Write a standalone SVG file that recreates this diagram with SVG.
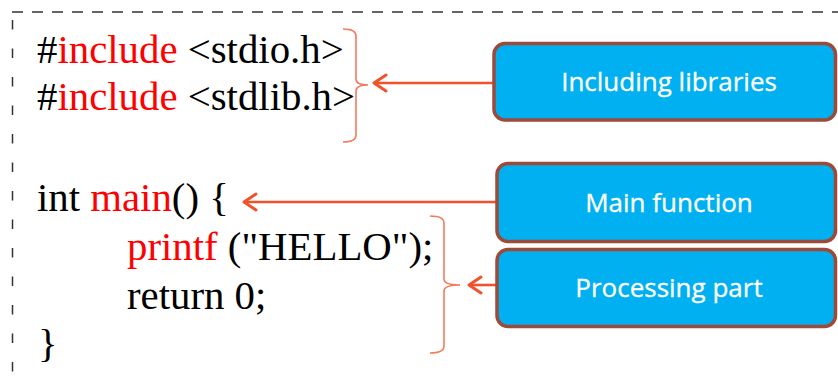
<svg xmlns="http://www.w3.org/2000/svg" width="838" height="390" viewBox="0 0 838 390">
  <style>
    .code { font-family: "Liberation Serif", "Times New Roman", serif; font-size: 40.8px; fill: #000; }
    .kw { fill: #ff0000; }
    .frame { fill: none; stroke: #333; stroke-width: 1.5; }
    .brace { fill: none; stroke: #f47a5c; stroke-width: 1.6; }
    .conn { fill: none; stroke: #f0522b; stroke-width: 2.6; }
    .box rect { fill: #00b0f0; stroke: #9c4a3a; stroke-width: 3.5; }
    .box text { font-family: "Open Sans", "Noto Sans", sans-serif; font-size: 26px; fill: #fff; stroke: #fff; stroke-width: 0.3; text-anchor: middle; }
  </style>
  <defs>
    <marker id="chevron" markerUnits="userSpaceOnUse" viewBox="-16 -11 18 22" markerWidth="18" markerHeight="22" refX="0" refY="0" orient="auto">
      <path d="M-12,-8 L0,0 L-12,8" fill="none" stroke="#f0522b" stroke-width="3" stroke-linejoin="round" stroke-linecap="round"/>
    </marker>
  </defs>

  <rect width="838" height="390" fill="#fff"/>

  <!-- dashed frame -->
  <g id="frame">
    <line class="frame" x1="12" y1="12" x2="838" y2="12" stroke-dasharray="11 9"/>
    <line class="frame" x1="12.5" y1="20" x2="12.5" y2="390" stroke-dasharray="9.5 19"/>
  </g>

  <!-- source listing -->
  <g id="code">
    <text class="code" x="37" y="63">#<tspan class="kw">include</tspan> &lt;stdio.h&gt;</text>
    <text class="code" x="37" y="110">#<tspan class="kw">include</tspan> &lt;stdlib.h&gt;</text>
    <text class="code" x="37" y="211">int <tspan class="kw">main</tspan>() {</text>
    <text class="code" x="127" y="260"><tspan class="kw">printf</tspan> ("HELLO");</text>
    <text class="code" x="127" y="309">return 0;</text>
    <text class="code" x="38" y="357">}</text>
  </g>

  <!-- braces grouping the listing -->
  <g id="braces">
    <path class="brace" d="M343,29 Q356,29 356,36 L356,79 Q356,85 368,85 Q356,85 356,91 L356,135 Q356,142 343,142"/>
    <path class="brace" d="M430,216 Q444,216 444,223 L444,279 Q444,285 460,285 Q444,285 444,291 L444,346 Q444,353 430,353"/>
  </g>

  <!-- connectors -->
  <g id="connectors">
    <line class="conn" x1="494" y1="83" x2="374" y2="83" marker-end="url(#chevron)"/>
    <line class="conn" x1="497" y1="202" x2="244" y2="202" marker-end="url(#chevron)"/>
    <line class="conn" x1="497" y1="285" x2="469" y2="285" marker-end="url(#chevron)"/>
  </g>

  <!-- label boxes -->
  <g id="node-libraries" class="box">
    <rect x="494" y="43.5" width="341.5" height="76.5" rx="11"/>
    <text x="669" y="91">Including libraries</text>
  </g>
  <g id="node-main" class="box">
    <rect x="497" y="163.5" width="338.5" height="78" rx="11"/>
    <text x="669" y="211.5">Main function</text>
  </g>
  <g id="node-processing" class="box">
    <rect x="497" y="249.5" width="338.5" height="77" rx="11"/>
    <text x="669" y="297">Processing part</text>
  </g>
</svg>
